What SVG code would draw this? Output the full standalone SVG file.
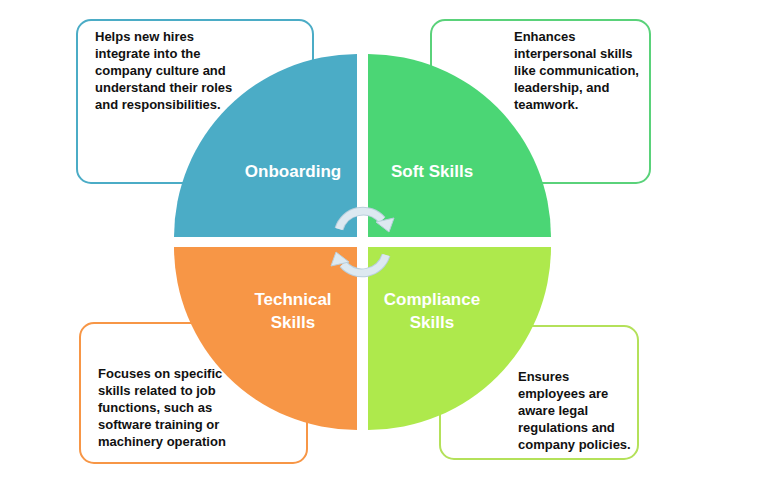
<svg xmlns="http://www.w3.org/2000/svg" width="761" height="484" viewBox="0 0 761 484">
<style>
.lbl{font-family:"Liberation Sans",Arial,sans-serif;font-size:17px;font-weight:bold;fill:#fff;text-anchor:middle}
.txt{font-family:"Liberation Sans",Arial,sans-serif;font-size:13px;font-weight:bold;fill:#111}
.box{fill:#fff;stroke-width:2}
.arc{fill:none;stroke:#dde9f1;stroke-width:7}
.arcO{fill:none;stroke:#b9cfdc;stroke-width:9}
</style>
<rect width="761" height="484" fill="#fff"/>
<g id="box-onboarding"><rect class="box" x="77" y="20" width="236" height="163" rx="14" stroke="#4bacc6"/>
<text class="txt"><tspan x="95" y="41">Helps new hires</tspan><tspan x="95" y="58">integrate into the</tspan><tspan x="95" y="75">company culture and</tspan><tspan x="95" y="92">understand their roles</tspan><tspan x="95" y="109">and responsibilities.</tspan></text></g>
<g id="box-soft"><rect class="box" x="431" y="20" width="219" height="163" rx="14" stroke="#5ad27a"/>
<text class="txt"><tspan x="514" y="41">Enhances</tspan><tspan x="514" y="58">interpersonal skills</tspan><tspan x="514" y="75">like communication,</tspan><tspan x="514" y="92">leadership, and</tspan><tspan x="514" y="109">teamwork.</tspan></text></g>
<g id="box-technical"><rect class="box" x="80" y="323" width="227" height="140" rx="14" stroke="#f79646"/>
<text class="txt"><tspan x="98" y="378">Focuses on specific</tspan><tspan x="98" y="395">skills related to job</tspan><tspan x="98" y="412">functions, such as</tspan><tspan x="98" y="429">software training or</tspan><tspan x="98" y="446">machinery operation</tspan></text></g>
<g id="box-compliance"><rect class="box" x="440" y="326" width="198" height="133" rx="14" stroke="#b4e15a"/>
<text class="txt"><tspan x="518" y="381">Ensures</tspan><tspan x="518" y="398">employees are</tspan><tspan x="518" y="415">aware legal</tspan><tspan x="518" y="432">regulations and</tspan><tspan x="518" y="449">company policies.</tspan></text></g>
<g id="onboarding"><path d="M357 237 L174 237 A183 183 0 0 1 357 54 Z" fill="#4bacc6"/><text class="lbl" x="293" y="177">Onboarding</text></g>
<g id="soft"><path d="M368 237 L368 54 A183 183 0 0 1 551 237 Z" fill="#4bd675"/><text class="lbl" x="432" y="177">Soft Skills</text></g>
<g id="technical"><path d="M357 247 L357 430 A183 183 0 0 1 174 247 Z" fill="#f79646"/><text class="lbl" x="293" y="305">Technical</text><text class="lbl" x="293" y="328">Skills</text></g>
<g id="compliance"><path d="M368 247 L551 247 A183 183 0 0 1 368 430 Z" fill="#aee94c"/><text class="lbl" x="432" y="305">Compliance</text><text class="lbl" x="432" y="328">Skills</text></g>
<g id="connectors">
<path class="arcO" d="M339 229 A25 25 0 0 1 382 220"/>
<path class="arc" d="M339 229 A25 25 0 0 1 382 220"/>
<polygon points="376,222 394,218 389,232" fill="#dde9f1" stroke="#b9cfdc" stroke-width="1"/>
<path class="arcO" d="M386 255 A25 25 0 0 1 343 264"/>
<path class="arc" d="M386 255 A25 25 0 0 1 343 264"/>
<polygon points="349,262 331,266 336,252" fill="#dde9f1" stroke="#b9cfdc" stroke-width="1"/>
</g>
</svg>
